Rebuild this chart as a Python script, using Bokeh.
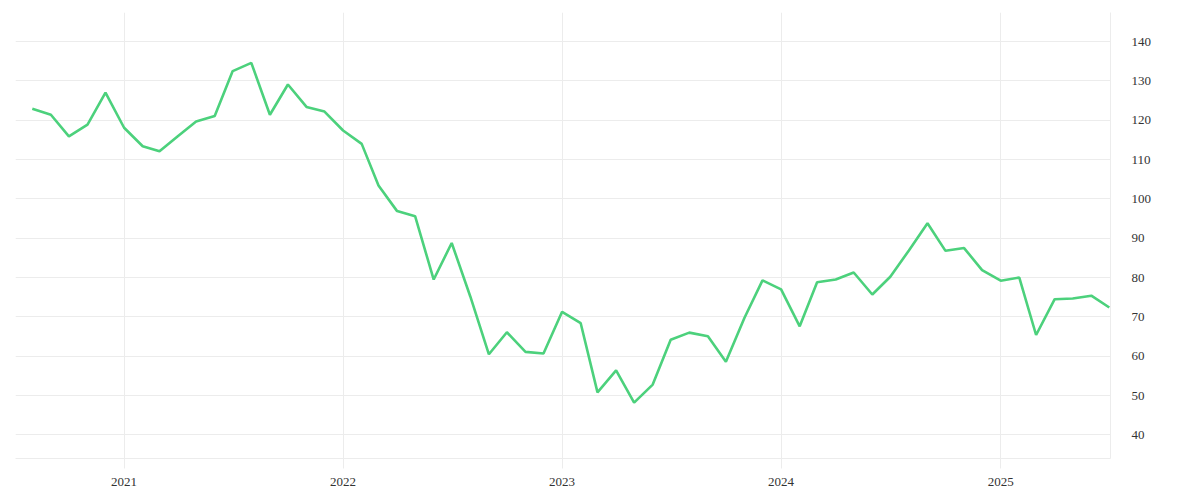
import pandas as pd
from bokeh.plotting import figure
from bokeh.models import ColumnDataSource, Range1d, SingleIntervalTicker, YearsTicker, DatetimeTickFormatter
from bokeh.embed import file_html
from bokeh.resources import INLINE

# monthly observations, Aug 2020 .. Jul 2025
months = pd.date_range("2020-08-01", periods=60, freq="MS")
values = [
    122.9, 121.4, 115.9, 118.9, 127.0,               # 2020 Aug-Dec
    118.1, 113.4, 112.1, 116.0, 119.7, 121.1,        # 2021 Jan-Jun
    132.5, 134.6, 121.4, 129.1, 123.4, 122.2,        # 2021 Jul-Dec
    117.4, 114.0, 103.4, 96.9, 95.6, 79.5,           # 2022 Jan-Jun
    88.8, 75.2, 60.5, 66.1, 61.1, 60.7,              # 2022 Jul-Dec
    71.3, 68.4, 50.8, 56.4, 48.2, 52.8,              # 2023 Jan-Jun
    64.2, 66.0, 65.1, 58.6, 69.8, 79.3,              # 2023 Jul-Dec
    77.0, 67.6, 78.8, 79.5, 81.3, 75.7,              # 2024 Jan-Jun
    80.2, 86.9, 93.8, 86.8, 87.5, 81.9,              # 2024 Jul-Dec
    79.2, 80.0, 65.4, 74.5, 74.7, 75.4, 72.4,        # 2025 Jan-Jul
]

source = ColumnDataSource(dict(date=months, value=values))

GRID = "#ececec"
TEXT = "#333333"
FONT = "Liberation Serif"

p = figure(
    x_axis_type="datetime",
    y_axis_location="right",
    frame_width=1095,
    frame_height=446,
    min_border_left=15,
    min_border_top=12,
    min_border_right=30,
    min_border_bottom=4,
    output_backend="svg",
    toolbar_location=None,
    x_range=Range1d(pd.Timestamp("2020-07-04"), pd.Timestamp("2025-07-03")),
    y_range=Range1d(34.0, 147.4),
)
p.outline_line_color = None
p.background_fill_color = "white"
p.border_fill_color = "white"

p.line("date", "value", source=source, line_color="#4cd17c", line_width=2.6)

# y axis (right)
yax = p.yaxis[0]
yax.ticker = SingleIntervalTicker(interval=10)
yax.axis_line_color = GRID
yax.major_tick_line_color = None
yax.minor_tick_line_color = None
yax.major_tick_out = 0
yax.major_tick_in = 0
yax.major_label_standoff = 17
yax.major_label_text_font = FONT
yax.major_label_text_font_size = "13px"
yax.major_label_text_color = TEXT

# x axis
xax = p.xaxis[0]
xax.ticker = YearsTicker(desired_num_ticks=5)
xax.formatter = DatetimeTickFormatter(years="%Y", months="%Y", days="%Y")
xax.axis_line_color = GRID
xax.major_tick_line_color = GRID
xax.major_tick_out = 10
xax.major_tick_in = 0
xax.minor_tick_line_color = None
xax.major_label_standoff = 9
xax.major_label_text_font = FONT
xax.major_label_text_font_size = "13px"
xax.major_label_text_color = TEXT

p.xgrid.grid_line_color = GRID
p.ygrid.grid_line_color = GRID
p.xgrid.ticker = xax.ticker
p.ygrid.ticker = yax.ticker

open("out.html", "w").write(file_html(p, INLINE))
